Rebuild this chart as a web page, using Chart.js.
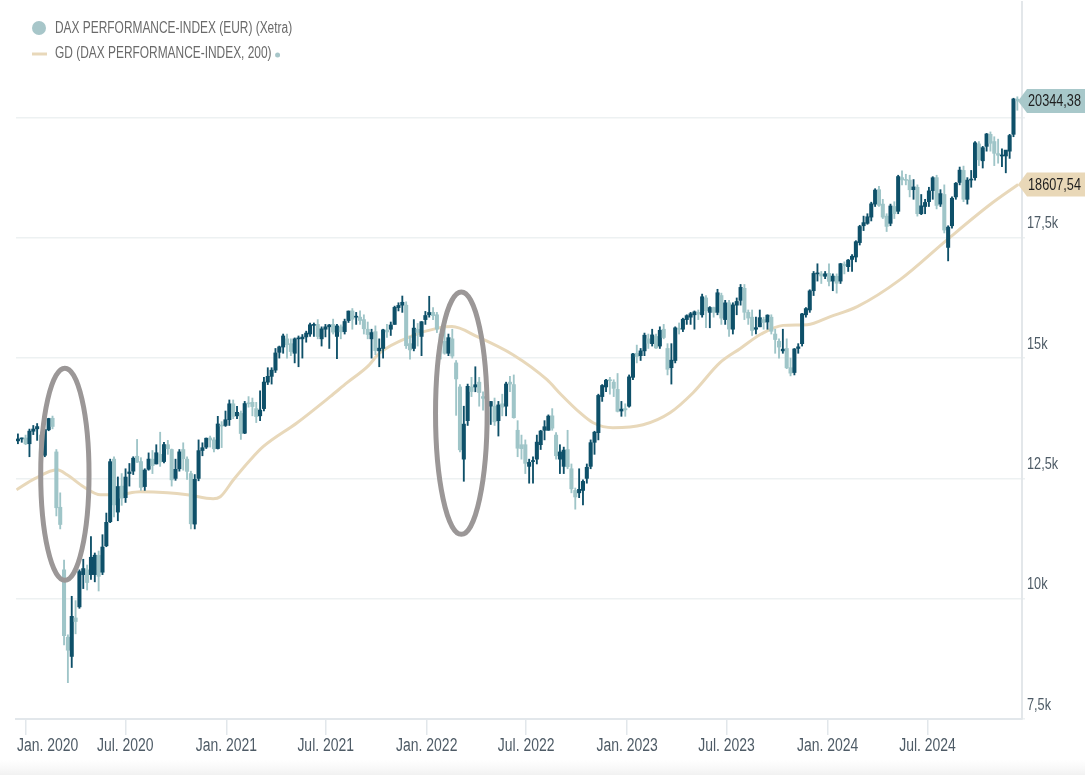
<!DOCTYPE html>
<html>
<head>
<meta charset="utf-8">
<script src="https://cdn.jsdelivr.net/npm/chart.js@4.4.1/dist/chart.umd.min.js"></script>
<style>
  html, body { margin: 0; padding: 0; background: #ffffff; }
  #wrap { position: relative; width: 1085px; height: 775px; }
  canvas { display: block; }
</style>
</head>
<body>
<div id="wrap"><canvas id="c" width="1085" height="775"></canvas></div>
<script>
// ---------------- DATA ----------------
const seriesName = "DAX PERFORMANCE-INDEX (EUR) (Xetra)";
const maName = "GD (DAX PERFORMANCE-INDEX, 200)";

// weekly candles (week starting Monday)
const weeks = [
 "2019-12-16","2019-12-23","2019-12-30",
 "2020-01-06","2020-01-13","2020-01-20","2020-01-27","2020-02-03","2020-02-10","2020-02-17","2020-02-24","2020-03-02","2020-03-09","2020-03-16","2020-03-23","2020-03-30","2020-04-06","2020-04-13","2020-04-20","2020-04-27","2020-05-04","2020-05-11","2020-05-18","2020-05-25","2020-06-01","2020-06-08","2020-06-15","2020-06-22","2020-06-29","2020-07-06","2020-07-13","2020-07-20","2020-07-27","2020-08-03","2020-08-10","2020-08-17","2020-08-24","2020-08-31","2020-09-07","2020-09-14","2020-09-21","2020-09-28","2020-10-05","2020-10-12","2020-10-19","2020-10-26","2020-11-02","2020-11-09","2020-11-16","2020-11-23","2020-11-30","2020-12-07","2020-12-14","2020-12-21","2020-12-28",
 "2021-01-04","2021-01-11","2021-01-18","2021-01-25","2021-02-01","2021-02-08","2021-02-15","2021-02-22","2021-03-01","2021-03-08","2021-03-15","2021-03-22","2021-03-29","2021-04-05","2021-04-12","2021-04-19","2021-04-26","2021-05-03","2021-05-10","2021-05-17","2021-05-24","2021-05-31","2021-06-07","2021-06-14","2021-06-21","2021-06-28","2021-07-05","2021-07-12","2021-07-19","2021-07-26","2021-08-02","2021-08-09","2021-08-16","2021-08-23","2021-08-30","2021-09-06","2021-09-13","2021-09-20","2021-09-27","2021-10-04","2021-10-11","2021-10-18","2021-10-25","2021-11-01","2021-11-08","2021-11-15","2021-11-22","2021-11-29","2021-12-06","2021-12-13","2021-12-20","2021-12-27",
 "2022-01-03","2022-01-10","2022-01-17","2022-01-24","2022-01-31","2022-02-07","2022-02-14","2022-02-21","2022-02-28","2022-03-07","2022-03-14","2022-03-21","2022-03-28","2022-04-04","2022-04-11","2022-04-18","2022-04-25","2022-05-02","2022-05-09","2022-05-16","2022-05-23","2022-05-30","2022-06-06","2022-06-13","2022-06-20","2022-06-27","2022-07-04","2022-07-11","2022-07-18","2022-07-25","2022-08-01","2022-08-08","2022-08-15","2022-08-22","2022-08-29","2022-09-05","2022-09-12","2022-09-19","2022-09-26","2022-10-03","2022-10-10","2022-10-17","2022-10-24","2022-10-31","2022-11-07","2022-11-14","2022-11-21","2022-11-28","2022-12-05","2022-12-12","2022-12-19","2022-12-26",
 "2023-01-02","2023-01-09","2023-01-16","2023-01-23","2023-01-30","2023-02-06","2023-02-13","2023-02-20","2023-02-27","2023-03-06","2023-03-13","2023-03-20","2023-03-27","2023-04-03","2023-04-10","2023-04-17","2023-04-24","2023-05-01","2023-05-08","2023-05-15","2023-05-22","2023-05-29","2023-06-05","2023-06-12","2023-06-19","2023-06-26","2023-07-03","2023-07-10","2023-07-17","2023-07-24","2023-07-31","2023-08-07","2023-08-14","2023-08-21","2023-08-28","2023-09-04","2023-09-11","2023-09-18","2023-09-25","2023-10-02","2023-10-09","2023-10-16","2023-10-23","2023-10-30","2023-11-06","2023-11-13","2023-11-20","2023-11-27","2023-12-04","2023-12-11","2023-12-18","2023-12-25",
 "2024-01-01","2024-01-08","2024-01-15","2024-01-22","2024-01-29","2024-02-05","2024-02-12","2024-02-19","2024-02-26","2024-03-04","2024-03-11","2024-03-18","2024-03-25","2024-04-01","2024-04-08","2024-04-15","2024-04-22","2024-04-29","2024-05-06","2024-05-13","2024-05-20","2024-05-27","2024-06-03","2024-06-10","2024-06-17","2024-06-24","2024-07-01","2024-07-08","2024-07-15","2024-07-22","2024-07-29","2024-08-05","2024-08-12","2024-08-19","2024-08-26","2024-09-02","2024-09-09","2024-09-16","2024-09-23","2024-09-30","2024-10-07","2024-10-14","2024-10-21","2024-10-28","2024-11-04","2024-11-11","2024-11-18","2024-11-25","2024-12-02","2024-12-09"
];

const opens = [
 13280,13320,13340,
 13220,13480,13530,13400,12980,13510,13750,13050,11900,10600,9200,8800,9600,9830,10500,10600,10500,10500,10900,10550,11100,11600,12900,11800,12340,12100,12600,12650,12960,12850,12330,12690,12900,12800,13000,12850,13200,13100,12500,12700,13100,12900,12600,11550,12500,13080,13150,13340,13300,13120,13600,13600,
 13720,14050,13800,13850,13440,14060,14080,13950,13800,13950,14500,14620,14750,15120,15230,15400,15300,15100,15400,15400,15440,15500,15680,15700,15400,15600,15650,15700,15450,15650,15550,15780,15980,15850,15850,15800,15600,15400,15550,15150,15200,15580,15600,15700,16050,16100,16100,15300,15200,15600,15450,15800,
 15900,15950,15900,15500,15350,15100,15400,14900,14400,12900,13700,14400,14400,14500,14200,14150,14000,14000,13700,14050,14000,14500,14450,13500,13200,13200,12750,12850,12900,13200,13500,13500,13800,13400,12900,12750,13100,12700,12250,12200,12250,12500,12750,13250,13450,14200,14400,14550,14500,14350,13900,13950,
 14000,14600,15100,15050,15150,15400,15300,15450,15250,15600,15200,14800,14950,15600,15600,15800,15850,15900,15950,15900,16250,15950,16050,15950,16300,15800,16150,15600,16100,16200,16450,15950,15850,15600,15650,15800,15750,15850,15500,15350,15150,15200,14800,14700,15200,15300,15900,16000,16400,16750,16750,16700,
 16760,16600,16700,16600,16950,16900,17050,17100,17400,17750,17800,17930,18200,18500,18200,17950,17800,18150,18050,18750,18700,18700,18500,18550,18000,18150,18250,18480,18750,18200,18400,17300,17750,18350,18650,18900,18300,18700,18750,19450,19100,19400,19650,19500,19250,19200,19200,19300,19650,20380
];

const highs = [
 13425,13340,13400,
 13525,13600,13640,13460,13510,13750,13795,13100,12200,10800,9250,10050,9960,10600,10820,10700,11290,10950,10990,11330,11780,12900,12950,12530,12600,12700,12810,12950,13310,12930,12700,13030,13080,13200,13460,13250,13290,13110,12900,13100,13240,12950,12650,12580,13300,13240,13340,13380,13350,13790,13680,13900,
 14130,14130,14000,13900,14100,14200,14170,14080,14320,14600,14800,14800,15200,15250,15500,15500,15400,15420,15460,15490,15560,15730,15730,15800,15650,15700,15700,15810,15700,15690,15810,15980,16030,15950,15980,15900,15750,15600,15670,15400,15600,15700,15750,16080,16150,16290,16170,15450,15800,15720,15760,15970,
 16285,16050,15950,15600,15650,15500,15600,14950,14450,14000,14460,14600,14820,14600,14300,14600,14100,14170,14100,14250,14500,14620,14650,13700,13400,13300,12900,12950,13400,13500,13700,13820,13950,13450,13200,13150,13500,12800,12300,12700,12470,12800,13300,13480,14250,14450,14560,14600,14550,14680,14100,14050,
 14650,15100,15270,15200,15520,15500,15600,15500,15650,15700,15300,15300,15650,15730,15830,15900,15950,15980,16000,16330,16300,16070,16060,16430,16350,16200,16200,16150,16250,16530,16530,16000,16000,15850,16000,15850,15900,15900,15600,15400,15600,15400,15000,15200,15300,15930,16050,16420,16800,16960,16800,16800,
 16960,16750,16750,16970,17000,17050,17150,17440,17760,17950,18000,18240,18520,18570,18300,18000,18200,18250,18800,18890,18820,18800,18710,18600,18400,18300,18550,18770,18800,18500,18600,17750,18350,18650,18970,18990,18750,18900,19500,19500,19400,19670,19700,19600,19550,19350,19300,19650,20400,20430
];

const lows = [
 13220,13250,13200,
 12950,13410,13290,12950,12950,13490,13530,11720,11450,9040,8255,8570,9270,9800,10210,10180,10400,10350,10160,10500,11080,11580,11700,11620,11940,12000,12340,12580,12830,12250,12250,12670,12600,12800,12750,12820,13000,12340,12460,12650,12670,12480,11450,11450,12450,12970,13120,13150,13050,13110,13140,13580,
 13600,13740,13740,13310,13430,13980,13800,13660,13700,13900,14450,14460,14700,15000,15100,15000,15050,14900,14820,15000,15330,15450,15450,15400,15250,15440,15200,15500,14990,15400,15500,15740,15600,15700,15700,15500,15400,15000,15070,14820,15000,15430,15470,15700,15980,15950,15200,14980,15150,15250,15050,15700,
 15850,15800,15530,14980,15080,15050,15000,13810,13050,12440,13600,14200,14300,14000,13920,14050,13620,13600,13380,13800,13800,14300,13750,12950,12900,12600,12400,12400,12800,13100,13300,13500,13500,12900,12600,12600,12700,12200,11860,12100,11950,12400,12700,13000,13300,14100,14300,14250,14200,13880,13790,13790,
 13980,14550,14900,14950,15050,15200,15250,15200,15200,15400,14650,14460,14900,15500,15550,15700,15700,15600,15800,15850,15630,15630,15850,15900,15700,15700,15450,15500,15900,16100,15800,15700,15470,15500,15650,15600,15600,15500,15100,15000,15100,14780,14630,14650,15100,15250,15850,15950,16300,16600,16550,16650,
 16500,16400,16350,16550,16750,16800,16800,17000,17350,17650,17780,17850,18150,18150,17900,17630,17750,17900,18000,18600,18600,18350,18300,17950,17980,18000,18150,18300,18100,18150,17600,17020,17700,18300,18600,18250,18200,18550,18700,19000,18950,19300,19300,19000,19050,18980,18850,19150,19600,20150
];

const closes = [
 13319,13337,13219,
 13483,13526,13577,12982,13514,13744,13579,11890,11542,9232,8929,9633,9525,10565,10626,10336,10861,10904,10465,11074,11587,12848,11949,12331,12089,12528,12634,12920,12838,12313,12674,12901,12765,13033,12842,13203,13116,12469,12689,13051,12909,12646,11556,12480,13077,13137,13335,13298,13114,13631,13587,13719,
 14050,13788,13873,13433,14056,14050,13993,13786,13920,14502,14621,14749,15107,15234,15460,15280,15136,15400,15417,15437,15520,15693,15693,15448,15608,15650,15688,15540,15669,15544,15761,15977,15808,15852,15781,15609,15490,15531,15156,15207,15587,15543,15688,16054,16094,16160,15257,15170,15623,15532,15756,15885,
 15948,15883,15603,15318,15100,15425,15042,14567,13094,13628,14413,14305,14446,14284,14164,14142,14098,13675,14027,13982,14462,14460,13762,13127,13118,12813,12833,12864,13254,13484,13574,13795,13544,12971,13050,13088,12741,12284,12114,12273,12438,12731,13243,13460,14224,14431,14541,14529,14371,13894,13940,13924,
 14610,15087,15033,15150,15476,15308,15482,15210,15578,15428,14768,14957,15629,15598,15808,15882,15922,15961,15913,16275,15984,16051,15950,16358,15830,16148,15603,16106,16177,16469,15952,15832,15574,15632,15840,15740,15893,15557,15386,15229,15186,14798,14687,15189,15234,15919,16029,16397,16759,16751,16706,16752,
 16594,16704,16555,16961,16918,17037,17117,17419,17735,17815,17937,18206,18492,18175,17930,17737,18161,18001,18773,18704,18693,18498,18557,18002,18164,18235,18475,18748,18172,18418,17661,17722,18322,18633,18906,18301,18699,18720,19474,19121,19374,19657,19464,19255,19216,19211,19323,19626,20385,20344.38
];

// 200-day moving average (GD 200)
const maDates = [
 "2019-12-16","2020-01-19","2020-02-28","2020-03-17","2020-04-16","2020-05-17","2020-06-16","2020-07-28","2020-09-16","2020-10-22","2020-12-08","2020-12-21",
 "2021-01-14","2021-02-14","2021-03-09","2021-05-10","2021-07-09","2021-08-09","2021-09-15","2021-10-08","2021-12-02",
 "2022-01-25","2022-02-16","2022-04-03","2022-06-07","2022-08-08","2022-09-02","2022-10-07","2022-10-31","2022-12-06",
 "2023-01-30","2023-03-20","2023-05-01","2023-06-19","2023-07-26","2023-09-02","2023-10-12","2023-11-25",
 "2024-01-06","2024-02-24","2024-05-12","2024-08-06","2024-10-23","2024-12-13"
];
const maValues = [
 12263,12500,12679,12575,12326,12159,12159,12222,12201,12159,12076,12118,
 12471,12887,13158,13657,14198,14489,14822,15113,15446,
 15633,15654,15446,15071,14551,14250,13865,13657,13553,
 13615,13865,14281,14905,15200,15500,15680,15695,
 15862,16070,16631,17463,18191,18607.54
];

// axis ticks
const xTickDates = ["2020-01-01","2020-07-01","2021-01-01","2021-07-01","2022-01-01","2022-07-01","2023-01-01","2023-07-01","2024-01-01","2024-07-01"];
const xTickLabels = ["Jan. 2020","Jul. 2020","Jan. 2021","Jul. 2021","Jan. 2022","Jul. 2022","Jan. 2023","Jul. 2023","Jan. 2024","Jul. 2024"];
const yTickValues = [7500, 10000, 12500, 15000, 17500, 20000];
const yTickLabels = ["7,5k", "10k", "12,5k", "15k", "17,5k", "20k"];
const xRange = ["2019-12-15", "2024-12-20"];
const yRange = [7500, 22400];

// highlighted periods (annotation ellipses): centre date, centre value, half-width (days), half-height (index points)
const ellipseCentres = ["2020-03-13", "2022-03-05"];
const ellipseLevels = [12586, 13854];
const ellipseHalfDays = [44, 47];
const ellipseHalfPoints = [2205, 2517];

// ---------------- HELPERS ----------------
const EPOCH = Date.UTC(2020, 0, 1);
function dayOf(s) {
  const p = s.split("-").map(Number);
  return (Date.UTC(p[0], p[1] - 1, p[2]) - EPOCH) / 86400000;
}
const fmt = v => v.toFixed(2).replace(".", ",");

const DARK = "#0e5069";
const LIGHT = "#9fc5c8";
const MA_COLOR = "#e8d8ba";
const FONT = '"Liberation Sans", Arial, sans-serif';
const TEXT = "#4e5b66";

// condensed text drawing (narrow face emulated by horizontal scaling)
function narrowWidth(ctx, text, size, sx) {
  ctx.save();
  ctx.font = size + "px " + FONT;
  const w = ctx.measureText(text).width * sx;
  ctx.restore();
  return w;
}
function narrowText(ctx, text, left, y, size, sx, color) {
  ctx.save();
  ctx.font = size + "px " + FONT;
  ctx.fillStyle = color;
  ctx.textBaseline = "middle";
  ctx.textAlign = "left";
  ctx.translate(left, y);
  ctx.scale(sx, 1);
  ctx.fillText(text, 0, 0);
  ctx.restore();
  return narrowWidth(ctx, text, size, sx);
}

const wickPts = weeks.map((w, i) => ({ x: dayOf(w) + 2.5, y: [lows[i], highs[i]] }));
const bodyPts = weeks.map((w, i) => ({ x: dayOf(w) + 2.5, y: [opens[i], closes[i]] }));
const maPts = maDates.map((d, i) => ({ x: dayOf(d), y: maValues[i] }));
const candleColor = c => closes[c.dataIndex] >= opens[c.dataIndex] ? DARK : LIGHT;

const overlay = {
  id: "overlay",
  beforeDraw(chart) {
    const ctx = chart.ctx;
    const g = ctx.createLinearGradient(0, 760, 0, 775);
    g.addColorStop(0, "rgba(246,246,246,0)");
    g.addColorStop(1, "rgba(242,242,242,1)");
    ctx.save();
    ctx.fillStyle = g;
    ctx.fillRect(0, 760, 1085, 15);
    ctx.restore();
  },
  afterDraw(chart) {
    const ctx = chart.ctx;
    const xs = chart.scales.x, ys = chart.scales.y;
    const area = chart.chartArea;

    // ellipses
    ctx.save();
    ctx.strokeStyle = "#9b9797";
    ctx.lineWidth = 5;
    for (let i = 0; i < ellipseCentres.length; i++) {
      const cd = dayOf(ellipseCentres[i]);
      const cx = xs.getPixelForValue(cd);
      const cy = ys.getPixelForValue(ellipseLevels[i]);
      const rx = Math.abs(xs.getPixelForValue(cd + ellipseHalfDays[i]) - cx);
      const ry = Math.abs(ys.getPixelForValue(ellipseLevels[i] + ellipseHalfPoints[i]) - cy);
      ctx.beginPath();
      ctx.ellipse(cx, cy, rx, ry, 0, 0, Math.PI * 2);
      ctx.stroke();
    }
    ctx.restore();

    // x tick labels
    const XS = 18, XSX = 0.775;
    xTickDates.forEach((d, i) => {
      const x = xs.getPixelForValue(dayOf(d));
      const w = narrowWidth(ctx, xTickLabels[i], XS, XSX);
      const left = Math.max(x - w / 2, area.left + 1);
      narrowText(ctx, xTickLabels[i], left, 746, XS, XSX, TEXT);
    });

    // y tick labels (above their grid lines)
    yTickValues.forEach((v, i) => {
      const y = ys.getPixelForValue(v);
      narrowText(ctx, yTickLabels[i], area.right + 5, y - 14, 16.5, 0.77, TEXT);
    });

    // value tags on the right
    const tag = (val, fill) => {
      const y = ys.getPixelForValue(val);
      const x0 = area.right - 4, h = 12;
      ctx.save();
      ctx.fillStyle = fill;
      ctx.beginPath();
      ctx.moveTo(x0, y);
      ctx.lineTo(x0 + 9, y - h);
      ctx.lineTo(1085, y - h);
      ctx.lineTo(1085, y + h);
      ctx.lineTo(x0 + 9, y + h);
      ctx.closePath();
      ctx.fill();
      ctx.restore();
      narrowText(ctx, fmt(val), x0 + 10, y + 1, 16.5, 0.77, "#1e1e1e");
    };
    tag(closes[closes.length - 1], "#a8c8ca");
    tag(maValues[maValues.length - 1], "#e9d8b8");

    // legend
    ctx.save();
    ctx.fillStyle = "#a7c6c9";
    ctx.beginPath();
    ctx.arc(39, 28, 7, 0, Math.PI * 2);
    ctx.fill();
    ctx.strokeStyle = MA_COLOR;
    ctx.lineWidth = 3;
    ctx.beginPath();
    ctx.moveTo(32, 54);
    ctx.lineTo(47, 54);
    ctx.stroke();
    ctx.restore();
    narrowText(ctx, seriesName, 55, 29, 16, 0.745, "#6a6a6a");
    const w2 = narrowText(ctx, maName, 55, 54, 16, 0.745, "#6a6a6a");
    ctx.save();
    ctx.fillStyle = "#a7c6c9";
    ctx.beginPath();
    ctx.arc(55 + w2 + 6, 55, 2.5, 0, Math.PI * 2);
    ctx.fill();
    ctx.restore();
  }
};

new Chart(document.getElementById("c"), {
  type: "bar",
  data: {
    datasets: [
      { type: "line", label: maName, data: maPts, borderColor: MA_COLOR, borderWidth: 3,
        pointRadius: 0, cubicInterpolationMode: "monotone", order: 3 },
      { label: "wick", data: wickPts, backgroundColor: candleColor, barThickness: 1.2,
        grouped: false, order: 2 },
      { label: "body", data: bodyPts, backgroundColor: candleColor, barThickness: 3.4,
        grouped: false, minBarLength: 1, order: 1 }
    ]
  },
  options: {
    responsive: false,
    animation: false,
    layout: { padding: { left: 16, top: 2, right: 0, bottom: 0 } },
    plugins: { legend: { display: false }, tooltip: { enabled: false } },
    scales: {
      x: {
        type: "linear",
        min: dayOf(xRange[0]),
        max: dayOf(xRange[1]),
        offset: false,
        grid: { offset: false, drawOnChartArea: false, color: "#e2e7eb", lineWidth: 1.5, tickLength: 16 },
        border: { color: "#e2e7eb", width: 2 },
        ticks: { display: false },
        afterBuildTicks: s => { s.ticks = xTickDates.map(d => ({ value: dayOf(d) })); },
        afterFit: s => { s.height = 56; }
      },
      y: {
        position: "right",
        min: yRange[0],
        max: yRange[1],
        grid: { color: "#edf1f2", lineWidth: 1.5, tickLength: 3 },
        border: { color: "#e3e7ea", width: 2 },
        ticks: { display: false },
        afterBuildTicks: s => { s.ticks = yTickValues.map(v => ({ value: v })); },
        afterFit: s => { s.width = 63; }
      }
    }
  },
  plugins: [overlay]
});
</script>
</body>
</html>
